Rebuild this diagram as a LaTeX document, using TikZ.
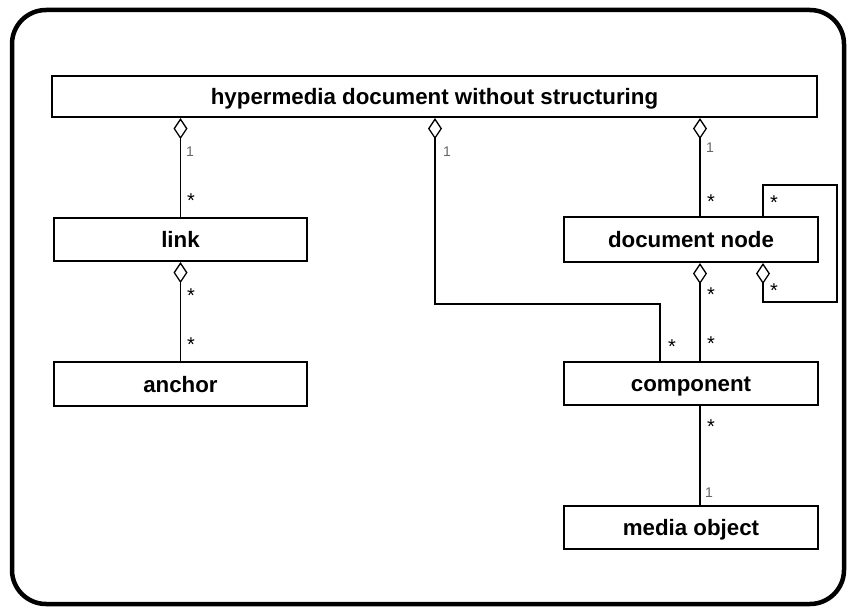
\documentclass[tikz,border=0pt]{standalone}
\usepackage{fontspec}
\setmainfont{Liberation Sans}
\usetikzlibrary{arrows.meta}
\begin{document}
\begin{tikzpicture}[x=1pt,y=-1pt,
  cls/.style={draw, line width=2.2pt, minimum width=253pt, minimum height=43pt, inner sep=0pt,
    font=\fontsize{22.3}{24}\selectfont\bfseries, text height=16pt, text depth=0pt, anchor=center},
  conn/.style={line width=1.4pt},
  agg/.style={conn, {Diamond[open,length=21pt,width=14pt,line width=1.3pt]}-},
  mult/.style={font=\fontsize{20}{20}\selectfont, anchor=center, inner sep=0pt, yshift=-4pt},
  one/.style={font=\fontsize{14}{14}\selectfont, text=black!60, inner sep=0pt, anchor=center}]
\useasboundingbox (0,0) rectangle (847,607);
\draw[line width=4.5pt, rounded corners=34pt] (12,10) rectangle (844,604);

\node[cls, minimum width=765pt, minimum height=41pt] (top) at (434.5,96.5) {hypermedia document without structuring};
\node[cls] (link) at (180.5,239.5) {link};
\node[cls, minimum height=44pt] (anchor) at (180.5,384) {anchor};
\node[cls, minimum width=254pt, minimum height=45pt] (dn) at (691,239.5) {document node};
\node[cls, minimum width=254pt] (comp) at (691,383.5) {component};
\node[cls, minimum width=254pt] (media) at (691,527.5) {media object};

\coordinate (xm) at (435,304);
\coordinate (xc) at (660,304);
\coordinate (xd) at (700,0);
\coordinate (lt) at (763,185);
\coordinate (rt) at (837,185);
\coordinate (rb) at (837,302);
\coordinate (lb) at (763,302);

\draw[agg] (top.south -| link.north) -- (link.north);
\draw[agg] (link.south) -- (anchor.north);
\draw[agg] (top.south -| xm) -- (xm) -- (xc) -- (comp.north -| xc);
\draw[agg] (top.south -| xd) -- (dn.north -| xd);
\draw[agg] (dn.south -| xd) -- (comp.north -| xd);
\draw[conn] (comp.south -| xd) -- (media.north -| xd);
\draw[agg] (dn.south -| lb) -- (lb) -- (rb) -- (rt) -- (lt) -- (dn.north -| lt);

\node[one] (o1) at (190,152) {1};
\node[one] (o2) at (447,152) {1};
\node[one] (o3) at (710,148) {1};
\node[one] (o4) at (709,493) {1};

\node[mult] (s1) at (191,197) {*};
\node[mult] (s2) at (191,292) {*};
\node[mult] (s3) at (191,341) {*};
\node[mult] (s4) at (711,198) {*};
\node[mult] (s5) at (711,291) {*};
\node[mult] (s6) at (711,340) {*};
\node[mult] (s7) at (672,343) {*};
\node[mult] (s8) at (774,199) {*};
\node[mult] (s9) at (774,287) {*};
\node[mult] (s10) at (711,423) {*};
\end{tikzpicture}
\end{document}
